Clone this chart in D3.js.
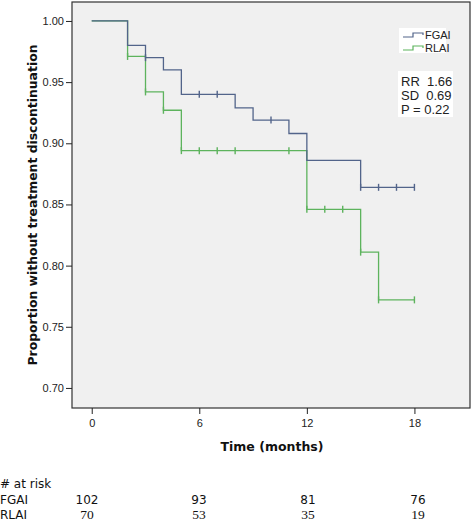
<!DOCTYPE html>
<html><head><meta charset="utf-8">
<script src="https://cdn.jsdelivr.net/npm/d3@7/dist/d3.min.js"></script>
<style>body{margin:0;background:#fff;} svg{display:block;}</style>
</head><body>
<svg id="c" width="472" height="524"></svg>
<script>
// Step-function data: [time, survival] at each step
const fgaiSteps = [[0,1.00],[2,0.980],[3,0.970],[4,0.960],[5,0.940],[8,0.929],[9,0.919],[11,0.908],[12,0.886],[15,0.864]];
const fgaiEnd = 18;
const fgaiCensor = [3,6,7,10,15,16,17,18];
const rlaiSteps = [[0,1.00],[2,0.971],[3,0.942],[4,0.927],[5,0.894],[12,0.846],[15,0.811],[16,0.772]];
const rlaiEnd = 18;
const rlaiCensor = [2,3,4,5,6,7,8,11,12,13,14,15,16,18];
const xTicks = [0,6,12,18];
const yTicks = [0.70,0.75,0.80,0.85,0.90,0.95,1.00];
const seriesNames = ["FGAI","RLAI"];
const atRiskFGAI = [102,93,81,76];
const atRiskRLAI = [70,53,35,19];
const stats = ["RR  1.66","SD  0.69","P = 0.22"];

const colors = {FGAI:"#52648a", RLAI:"#5db35d"};
const svg = d3.select("#c");
const L=72, R=470, T=2, B=408;
const x = d3.scaleLinear().domain([-1.1,21.1]).range([L,R]);
const y = d3.scaleLinear().domain([0.6836,1.0155]).range([B,T]);

svg.append("rect").attr("x",L).attr("y",T).attr("width",R-L).attr("height",B-T)
  .attr("fill","#f0f0f0").attr("stroke","#333").attr("stroke-width",1.2);

const fontA = "Liberation Sans, Arial, sans-serif";

// axes
const yAxis = svg.append("g").attr("transform",`translate(${L},0)`)
  .call(d3.axisLeft(y).tickValues(yTicks).tickFormat(d3.format(".2f")).tickSize(6).tickPadding(2));
yAxis.select(".domain").remove();
yAxis.selectAll("text").attr("font-family",fontA).attr("font-size",11).attr("fill","#222");
yAxis.selectAll("line").attr("stroke","#222");

const xAxis = svg.append("g").attr("transform",`translate(0,${B})`)
  .call(d3.axisBottom(x).tickValues(xTicks).tickSize(6).tickPadding(5));
xAxis.select(".domain").remove();
xAxis.selectAll("text").attr("font-family",fontA).attr("font-size",11).attr("fill","#222");
xAxis.selectAll("line").attr("stroke","#222");

// step path builder
function stepPath(steps, end){
  const pts = [];
  steps.forEach((s,i)=>{
    if(i>0) pts.push([s[0], steps[i-1][1]]);
    pts.push(s);
  });
  pts.push([end, steps[steps.length-1][1]]);
  return d3.line().x(d=>x(d[0])).y(d=>y(d[1]))(pts);
}
function valueAt(steps,t){
  let v = steps[0][1];
  steps.forEach(s=>{ if(s[0]<=t) v=s[1]; });
  return v;
}
function drawSeries(steps,end,censor,col){
  svg.append("path").attr("d",stepPath(steps,end)).attr("fill","none")
    .attr("stroke",col).attr("stroke-width",1.3);
  svg.selectAll(null).data(censor).enter().append("line")
    .attr("x1",d=>x(d)).attr("x2",d=>x(d))
    .attr("y1",d=>y(valueAt(steps,d))-3.5).attr("y2",d=>y(valueAt(steps,d))+3.5)
    .attr("stroke",col).attr("stroke-width",1.4);
}
drawSeries(rlaiSteps,rlaiEnd,rlaiCensor,colors.RLAI);
drawSeries(fgaiSteps,fgaiEnd,fgaiCensor,colors.FGAI);

// legend
const lg = svg.append("g");
lg.append("rect").attr("x",399).attr("y",28).attr("width",47).attr("height",25).attr("fill","#fff");
seriesNames.forEach((n,i)=>{
  const yy = 35 + i*13;
  lg.append("path").attr("d",`M403,${yy+2}H413V${yy-2}H423V${yy}`).attr("fill","none")
    .attr("stroke",colors[n]).attr("stroke-width",1.2);
  lg.append("text").attr("x",425).attr("y",yy+4).text(n)
    .attr("font-family",fontA).attr("font-size",11).attr("fill","#222");
});

// stats box
svg.append("rect").attr("x",398).attr("y",71).attr("width",55).attr("height",46).attr("fill","#fff");
stats.forEach((s,i)=>{
  svg.append("text").attr("x",401).attr("y",86+i*14).text(s).attr("xml:space","preserve")
    .attr("font-family",fontA).attr("font-size",13).attr("fill","#222");
});

// axis titles
svg.append("text").attr("transform","translate(37,205) rotate(-90)").attr("text-anchor","middle")
  .text("Proportion without treatment discontinuation")
  .attr("font-family","DejaVu Sans, Verdana, sans-serif").attr("font-weight","bold").attr("font-size",12.4).attr("fill","#111");
svg.append("text").attr("x",272).attr("y",451).attr("text-anchor","middle").text("Time (months)")
  .attr("font-family","DejaVu Sans, Verdana, sans-serif").attr("font-weight","bold").attr("font-size",12.5).attr("fill","#111");

// at risk table
const tf = "DejaVu Sans, Verdana, sans-serif";
svg.append("text").attr("x",0).attr("y",488).text("# at risk").attr("font-family",tf).attr("font-size",12).attr("fill","#111");
svg.append("text").attr("x",0).attr("y",504).text("FGAI").attr("font-family",tf).attr("font-size",12).attr("fill","#111");
svg.append("text").attr("x",0).attr("y",519).text("RLAI").attr("font-family",tf).attr("font-size",12).attr("fill","#111");
const riskX = [87,199,308,418];
atRiskFGAI.forEach((v,i)=>{
  svg.append("text").attr("x",riskX[i]).attr("y",504).attr("text-anchor","middle").text(v)
    .attr("font-family",tf).attr("font-size",12).attr("fill","#111");
});
atRiskRLAI.forEach((v,i)=>{
  svg.append("text").attr("x",riskX[i]).attr("y",519).attr("text-anchor","middle").text(v)
    .attr("font-family","Liberation Serif, Times New Roman, serif").attr("font-size",13.5).attr("fill","#111");
});
</script>
</body></html>
